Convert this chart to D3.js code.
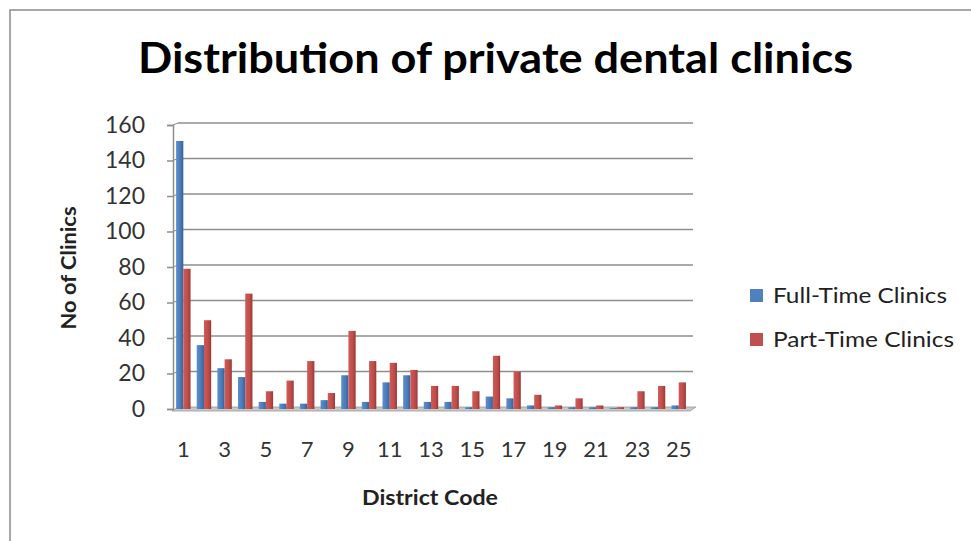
<!DOCTYPE html>
<html>
<head>
<meta charset="utf-8">
<script src="https://cdn.jsdelivr.net/npm/d3@7"></script>
<style>
  body { margin: 0; background: #fff; }
  svg text { font-family: Lato, "Open Sans", sans-serif; fill: #222; }
</style>
</head>
<body>
<svg id="chart" width="971" height="541"></svg>
<script>
const districts = d3.range(1, 26);
const fullTime = [151, 36, 23, 18, 4, 3, 3, 5, 19, 4, 15, 19, 4, 4, 1, 7, 6, 2, 1, 1, 1, 0.5, 1, 1, 2];
const partTime = [79, 50, 28, 65, 10, 16, 27, 9, 44, 27, 26, 22, 13, 13, 10, 30, 21, 8, 2, 6, 2, 1, 10, 13, 15];
const seriesNames = ["Full-Time Clinics", "Part-Time Clinics"];
const seriesColors = ["#4F81BD", "#C0504D"];
const yTicks = [0, 20, 40, 60, 80, 100, 120, 140, 160];

const svg = d3.select("#chart");

// gradients for the 3D-ish bar shading
const defs = svg.append("defs");
const shades = [["#5b8fd0", "#4a7ab5", "#37609a"], ["#d05a56", "#bf4d4a", "#963a37"]];
shades.forEach((s, i) => {
    const gr = defs.append("linearGradient").attr("id", "bar" + i)
        .attr("x1", 0).attr("x2", 1).attr("y1", 0).attr("y2", 0);
    gr.append("stop").attr("offset", "0%").attr("stop-color", s[0]);
    gr.append("stop").attr("offset", "60%").attr("stop-color", s[1]);
    gr.append("stop").attr("offset", "100%").attr("stop-color", s[2]);
});

// outer frame
svg.append("path")
    .attr("d", "M10,541 L10,10 L971,10")
    .attr("fill", "none").attr("stroke", "#8c8c8c").attr("stroke-width", 1.5);

svg.append("text")
    .attr("x", 138).attr("y", 73)
    .attr("font-size", 42).attr("font-weight", "bold")
    .attr("textLength", 715).attr("lengthAdjust", "spacingAndGlyphs")
    .style("fill", "#000")
    .text("Distribution of private dental clinics");

const x0 = d3.scaleBand().domain(districts).range([173, 689]).paddingInner(0.3).paddingOuter(0.15);
const x1 = d3.scaleBand().domain([0, 1]).range([0, x0.bandwidth()]);
const y = d3.scaleLinear().domain([0, 160]).range([409, 125]);

// back wall gridlines (shifted for the depth effect)
const grid = svg.append("g");
grid.selectAll("line").data(yTicks.slice(1)).join("line")
    .attr("x1", 178).attr("x2", 693)
    .attr("y1", d => y(d) - 2).attr("y2", d => y(d) - 2)
    .attr("stroke", "#8e8e8e").attr("stroke-width", 1.6);
grid.selectAll("path").data(yTicks.slice(1)).join("path")
    .attr("d", d => `M173,${y(d)} L178,${y(d) - 2}`)
    .attr("stroke", "#8e8e8e").attr("fill", "none");

// floor
svg.append("path")
    .attr("d", `M172,${y(0) + 2} L690,${y(0) + 2} L696,${y(0) - 2} L178,${y(0) - 2} Z`)
    .attr("fill", "#c8c8c8").attr("stroke", "#9a9a9a").attr("stroke-width", 0.8);

// y axis
const yAxis = svg.append("g")
    .attr("transform", "translate(173,0)")
    .call(d3.axisLeft(y).tickValues(yTicks).tickSize(6).tickPadding(22));
yAxis.select(".domain").attr("stroke", "#8e8e8e").attr("stroke-width", 1.5);
yAxis.selectAll(".tick line").attr("stroke", "#8e8e8e").attr("stroke-width", 1.5);
yAxis.selectAll("text").attr("font-size", 23).style("fill", "#333");

// bars
const groups = svg.append("g").selectAll("g").data(districts).join("g")
    .attr("transform", d => `translate(${x0(d)},0)`);
groups.selectAll("rect")
    .data((d, i) => [fullTime[i], partTime[i]].map((v, k) => ({ k, v })))
    .join("rect")
    .attr("x", d => x1(d.k))
    .attr("y", d => y(d.v))
    .attr("width", x1.bandwidth())
    .attr("height", d => y(0) - y(d.v))
    .attr("fill", d => `url(#bar${d.k})`);

// x axis labels (odd codes only)
const xAxis = svg.append("g")
    .attr("transform", `translate(0,${y(0)})`)
    .call(d3.axisBottom(x0).tickValues(districts.filter(d => d % 2 === 1)).tickSize(0).tickPadding(32));
xAxis.select(".domain").remove();
xAxis.selectAll("text").attr("font-size", 22).style("fill", "#333");

// axis titles
svg.append("text")
    .attr("transform", "translate(76,268) rotate(-90)")
    .attr("text-anchor", "middle")
    .attr("font-size", 21).attr("font-weight", "bold")
    .attr("textLength", 123).attr("lengthAdjust", "spacingAndGlyphs")
    .text("No of Clinics");
svg.append("text")
    .attr("x", 362).attr("y", 505)
    .attr("font-size", 21).attr("font-weight", "bold")
    .attr("textLength", 136).attr("lengthAdjust", "spacingAndGlyphs")
    .text("District Code");

// legend
const legend = svg.append("g");
seriesNames.forEach((name, i) => {
    const ly = 296 + i * 44;
    legend.append("rect")
        .attr("x", 750).attr("y", ly - 7).attr("width", 13).attr("height", 13)
        .attr("fill", seriesColors[i]);
    legend.append("text")
        .attr("x", 773).attr("y", ly)
        .attr("dy", "0.35em")
        .attr("font-size", 21)
        .attr("textLength", i === 0 ? 174 : 181).attr("lengthAdjust", "spacingAndGlyphs")
        .text(name);
});
</script>
</body>
</html>
